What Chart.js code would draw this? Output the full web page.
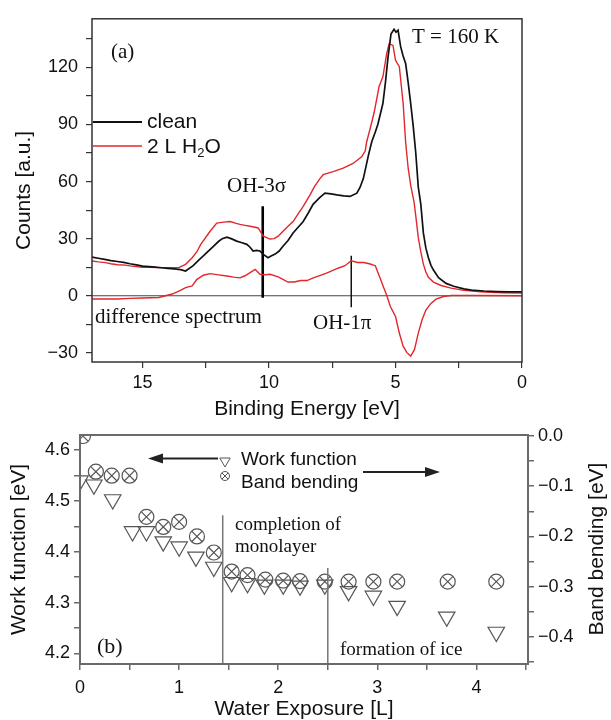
<!DOCTYPE html>
<html>
<head>
<meta charset="utf-8">
<script src="https://cdn.jsdelivr.net/npm/chart.js@4.4.0/dist/chart.umd.min.js"></script>
<style>
  html, body { margin: 0; padding: 0; background: #fff; }
  #wrap { position: relative; width: 611px; height: 720px; overflow: hidden; }
  #spectra-chart { position: absolute; left: 0; top: 0; }
  #exposure-chart { position: absolute; left: 0; top: 420px; }
</style>
</head>
<body>
<div id="wrap">
  <canvas id="spectra-chart" width="611" height="420"></canvas>
  <canvas id="exposure-chart" width="611" height="300"></canvas>
</div>
<script>
// (a) valence band spectra, binding energy [eV] vs counts [a.u.]
const cleanEnergy = [17, 16.75, 16.5, 16.25, 16, 15.75, 15.5, 15.25, 15, 14.75, 14.5, 14.25, 14, 13.75, 13.5, 13.3, 13.0, 12.8, 12.6, 12.4, 12.2, 12.0, 11.85, 11.67, 11.5, 11.28, 11.1, 10.88, 10.75, 10.63, 10.5, 10.36, 10.2, 10.04, 9.9, 9.76, 9.6, 9.45, 9.25, 9.05, 8.85, 8.65, 8.45, 8.26, 8.0, 7.79, 7.55, 7.32, 7.05, 6.8, 6.53, 6.4, 6.27, 6.07, 5.94, 5.8, 5.7, 5.5, 5.4, 5.3, 5.18, 5.06, 4.98, 4.9, 4.8, 4.7, 4.6, 4.5, 4.4, 4.3, 4.2, 4.1, 4.0, 3.9, 3.8, 3.7, 3.6, 3.5, 3.3, 3.0, 2.7, 2.3, 2.0, 1.5, 1.0, 0.5, 0];
const cleanCounts = [20.3, 19.7, 19.1, 18.5, 18, 17.5, 16.8, 16.2, 15.6, 15.3, 15, 14.7, 14.4, 14.1, 13.7, 13, 15.8, 18.5, 20.9, 23.5, 26, 28.5, 30, 30.8, 30, 28.7, 28, 27, 25.5, 23.5, 23.8, 23.5, 21.5, 20, 21, 21.9, 23.5, 26, 29, 33, 36, 39, 43.5, 48, 51.5, 53.9, 53.5, 53, 52.5, 52.2, 53.9, 57, 61.7, 73.9, 80.9, 86, 90, 101, 112, 125, 137.5, 140, 138.5, 139.5, 131, 126, 122, 112, 101, 89, 75, 57, 48, 33, 25, 20, 16, 13.5, 9.5, 6.5, 5, 3.6, 3, 2.5, 2.2, 2, 2];

const waterEnergy = [17, 16.75, 16.47, 16.25, 16, 15.68, 15.5, 15.25, 15.02, 14.75, 14.36, 14, 13.57, 13.3, 13.04, 12.86, 12.7, 12.33, 12.07, 11.8, 11.54, 11.3, 11.15, 10.95, 10.75, 10.43, 10.23, 9.96, 9.8, 9.64, 9.45, 9.25, 9.05, 8.85, 8.65, 8.38, 8.2, 7.98, 7.86, 7.47, 7.07, 6.68, 6.34, 6.2, 6.14, 6.0, 5.85, 5.65, 5.5, 5.35, 5.25, 5.1, 5.0, 4.85, 4.7, 4.6, 4.5, 4.4, 4.27, 4.2, 4.1, 4.0, 3.9, 3.8, 3.7, 3.5, 3.2, 2.8, 2.3, 1.5, 0.75, 0];
const waterCounts = [18.3, 17.8, 17.4, 16.8, 16.3, 16.1, 15.7, 15.3, 15, 14.9, 14.8, 14.8, 14.8, 16.5, 20, 23, 27, 33.9, 38.2, 38.7, 39, 38, 37.5, 37, 36.5, 35.6, 31.3, 29.8, 30, 31.3, 33.9, 36.5, 39, 43, 47, 53, 57.5, 61.7, 63.6, 65.2, 67, 69.5, 73, 76, 80.9, 88, 96, 109.9, 115, 127.2, 132.4, 131.5, 123.7, 120.3, 101.3, 80.6, 67, 58, 49.5, 42, 30.5, 23, 16.6, 12.5, 9.7, 7.2, 5.4, 4, 2.8, 2, 1.6, 1.4];

const diffEnergy = [17, 16, 15.5, 15, 14.36, 13.83, 13.5, 13.3, 13.04, 12.86, 12.6, 12.33, 12, 11.67, 11.4, 11.15, 10.95, 10.75, 10.55, 10.36, 10.15, 9.96, 9.64, 9.25, 9, 8.75, 8.5, 8.25, 8, 7.75, 7.5, 7.25, 7, 6.75, 6.5, 6.25, 6.0, 5.8, 5.65, 5.5, 5.35, 5.2, 5.0, 4.85, 4.7, 4.55, 4.4, 4.25, 4.1, 3.95, 3.8, 3.6, 3.4, 3.1, 2.8, 2.0, 0];
const diffCounts = [-1.7, -1.7, -1.4, -1.2, -0.9, 0.9, 2.8, 4.3, 5.2, 8.5, 10.8, 11.6, 11, 10.4, 9.8, 9.4, 10.5, 12.2, 13.9, 11.3, 11, 11.3, 9.9, 7.2, 7.2, 8, 8, 9.4, 10.6, 11.8, 13.2, 14.6, 15.8, 18.4, 17.5, 17.5, 16.7, 15.8, 10.6, 5.4, 0.3, -5.8, -10.9, -19.6, -26.5, -29.9, -31.7, -28.2, -19.6, -12.6, -7.5, -4, -1.8, -0.4, 0.1, 0.1, 0];

// peak markers OH-3sigma and OH-1pi
const markerEnergy = [10.25, 6.75];
const markerTop = [47, 21];
const markerBottom = [-1, -6];

// (b) work function and band bending vs water exposure [L]
const wfExposure = [0, 0.14, 0.33, 0.53, 0.67, 0.84, 1.0, 1.17, 1.35, 1.53, 1.69, 1.86, 2.05, 2.22, 2.47, 2.71, 2.96, 3.2, 3.7, 4.2];
const workFunction = [4.54, 4.532, 4.503, 4.44, 4.44, 4.42, 4.41, 4.39, 4.37, 4.34, 4.338, 4.335, 4.335, 4.333, 4.335, 4.322, 4.313, 4.293, 4.272, 4.242];
const bbExposure = [0.03, 0.16, 0.32, 0.5, 0.67, 0.84, 1.0, 1.18, 1.35, 1.53, 1.69, 1.87, 2.05, 2.22, 2.47, 2.71, 2.96, 3.2, 3.71, 4.2];
const bandBending = [0.0, -0.071, -0.079, -0.079, -0.161, -0.181, -0.171, -0.2, -0.232, -0.27, -0.277, -0.286, -0.288, -0.289, -0.29, -0.29, -0.29, -0.29, -0.29, -0.29];

// completion of monolayer / formation of ice
const stageExposure = [1.44, 2.5];
const stageTop = [4.472, 4.368];

const SANS = '"Liberation Sans", Arial, sans-serif';
const SERIF = '"Liberation Serif", "Times New Roman", serif';
const RED = '#e3262b';

Chart.defaults.font.family = SANS;
Chart.defaults.color = '#111';
Chart.defaults.animation = false;

const pairs = (xs, ys) => xs.map((x, i) => ({ x: x, y: ys[i] }));
const isMult = (v, step) => Math.abs(v / step - Math.round(v / step)) < 1e-6;
const minus = s => s.replace('-', '\u2212');

function frame(chart, color, width) {
  const { ctx, chartArea: a } = chart;
  ctx.save();
  ctx.strokeStyle = color;
  ctx.lineWidth = width;
  ctx.strokeRect(a.left, a.top, a.right - a.left, a.bottom - a.top);
  ctx.restore();
}

function text(ctx, str, x, y, font, align) {
  ctx.font = font;
  ctx.textAlign = align || 'left';
  ctx.textBaseline = 'middle';
  ctx.fillText(str, x, y);
}

// ---------- panel (a) ----------
const spectraDecor = {
  id: 'spectraDecor',
  beforeDatasetsDraw(chart) {
    const { ctx, chartArea: a, scales } = chart;
    const y0 = scales.y.getPixelForValue(0);
    ctx.save();
    ctx.strokeStyle = '#444';
    ctx.lineWidth = 1.2;
    ctx.beginPath();
    ctx.moveTo(a.left, y0);
    ctx.lineTo(a.right, y0);
    ctx.stroke();
    ctx.restore();
  },
  afterDatasetsDraw(chart) {
    const ctx = chart.ctx;
    frame(chart, '#333', 1.5);
    ctx.save();
    ctx.fillStyle = '#111';
    text(ctx, '(a)', 111, 52, '21px ' + SERIF);
    text(ctx, 'T = 160 K', 412, 37, '21px ' + SERIF);
    text(ctx, 'OH-3\u03c3', 227, 186, '21px ' + SERIF);
    text(ctx, 'difference spectrum', 95, 317, '21px ' + SERIF);
    text(ctx, 'OH-1\u03c0', 313, 323, '21px ' + SERIF);

    // legend
    ctx.lineWidth = 1.8;
    ctx.strokeStyle = '#111';
    ctx.beginPath(); ctx.moveTo(93, 122); ctx.lineTo(142, 122); ctx.stroke();
    ctx.strokeStyle = RED;
    ctx.lineWidth = 1.5;
    ctx.beginPath(); ctx.moveTo(93, 146); ctx.lineTo(142, 146); ctx.stroke();
    text(ctx, 'clean', 147, 122, '21px ' + SANS);
    let x = 147;
    text(ctx, '2 L H', x, 147, '21px ' + SANS);
    x += ctx.measureText('2 L H').width;
    text(ctx, '2', x, 153, '13px ' + SANS);
    x += ctx.measureText('2').width;
    text(ctx, 'O', x, 147, '21px ' + SANS);
    ctx.restore();
  }
};

new Chart(document.getElementById('spectra-chart'), {
  type: 'line',
  data: {
    datasets: [
      {
        label: 'clean',
        data: pairs(cleanEnergy, cleanCounts),
        borderColor: '#111',
        borderWidth: 1.7,
        pointRadius: 0,
        tension: 0
      },
      {
        label: '2 L H2O',
        data: pairs(waterEnergy, waterCounts),
        borderColor: RED,
        borderWidth: 1.4,
        pointRadius: 0,
        tension: 0
      },
      {
        label: 'difference spectrum',
        data: pairs(diffEnergy, diffCounts),
        borderColor: RED,
        borderWidth: 1.4,
        pointRadius: 0,
        tension: 0
      },
      {
        label: 'OH-3s',
        data: [{ x: markerEnergy[0], y: markerTop[0] }, { x: markerEnergy[0], y: markerBottom[0] }],
        borderColor: '#000',
        borderWidth: 2.6,
        pointRadius: 0
      },
      {
        label: 'OH-1p',
        data: [{ x: markerEnergy[1], y: markerTop[1] }, { x: markerEnergy[1], y: markerBottom[1] }],
        borderColor: '#111',
        borderWidth: 1.5,
        pointRadius: 0
      }
    ]
  },
  options: {
    responsive: false,
    parsing: false,
    layout: { padding: { top: 15, right: 89, left: 0, bottom: 0 } },
    plugins: { legend: { display: false }, tooltip: { enabled: false } },
    scales: {
      x: {
        type: 'linear',
        reverse: true,
        min: 0,
        max: 17,
        afterFit: s => { s.height = 58; },
        border: { display: false },
        grid: { drawOnChartArea: false, drawTicks: true, tickLength: 6, color: '#333', lineWidth: 1.2 },
        ticks: {
          stepSize: 2.5,
          includeBounds: false,
          maxRotation: 0,
          autoSkip: false,
          padding: 4,
          font: { size: 18 },
          callback: v => isMult(v, 5) ? String(v) : ''
        },
        title: { display: true, text: 'Binding Energy [eV]', font: { size: 21, lineHeight: 1 }, padding: { top: 0, bottom: 0 } }
      },
      y: {
        type: 'linear',
        min: -34.8,
        max: 145.5,
        afterFit: s => { s.width = 92; },
        border: { display: false },
        grid: { drawOnChartArea: false, drawTicks: true, tickLength: 6, color: '#333', lineWidth: 1.2 },
        ticks: {
          stepSize: 15,
          includeBounds: false,
          autoSkip: false,
          padding: 8,
          font: { size: 18 },
          callback: v => isMult(v, 30) ? minus(String(v)) : ''
        },
        title: { display: true, text: 'Counts [a.u.]', font: { size: 21, lineHeight: 1 }, padding: { top: 14, bottom: 0 } }
      }
    }
  },
  plugins: [spectraDecor]
});

// ---------- panel (b) ----------
function downTriangle(ctx, x, y, r) {
  ctx.beginPath();
  ctx.moveTo(x - r * 0.866, y - r / 2);
  ctx.lineTo(x + r * 0.866, y - r / 2);
  ctx.lineTo(x, y + r);
  ctx.closePath();
  ctx.stroke();
}

function crossCircle(ctx, x, y, r) {
  ctx.beginPath();
  ctx.arc(x, y, r, 0, Math.PI * 2);
  const d = r * Math.SQRT1_2;
  ctx.moveTo(x - d, y - d); ctx.lineTo(x + d, y + d);
  ctx.moveTo(x + d, y - d); ctx.lineTo(x - d, y + d);
  ctx.stroke();
}

function arrow(ctx, x1, x2, y) {
  const dir = Math.sign(x2 - x1);
  ctx.beginPath();
  ctx.moveTo(x1, y);
  ctx.lineTo(x2 - dir * 8, y);
  ctx.stroke();
  ctx.beginPath();
  ctx.moveTo(x2, y);
  ctx.lineTo(x2 - dir * 15, y - 5);
  ctx.lineTo(x2 - dir * 15, y + 5);
  ctx.closePath();
  ctx.fill();
}

const exposureDecor = {
  id: 'exposureDecor',
  afterDatasetsDraw(chart) {
    const ctx = chart.ctx;
    frame(chart, '#6a6a6a', 2);
    ctx.save();
    ctx.fillStyle = '#111';
    text(ctx, 'completion of', 235, 105, '19px ' + SERIF);
    text(ctx, 'monolayer', 235, 127, '19px ' + SERIF);
    text(ctx, 'formation of ice', 340, 230, '19px ' + SERIF);
    text(ctx, '(b)', 97, 227, '22px ' + SERIF);

    // legend
    text(ctx, 'Work function', 241, 40, '19px ' + SANS);
    text(ctx, 'Band bending', 241, 63, '19px ' + SANS);
    ctx.strokeStyle = '#555';
    ctx.lineWidth = 1;
    downTriangle(ctx, 225, 41, 6);
    crossCircle(ctx, 225, 56, 4.5);

    ctx.strokeStyle = '#222';
    ctx.fillStyle = '#222';
    ctx.lineWidth = 2;
    arrow(ctx, 218, 148, 38.5);
    arrow(ctx, 363, 440, 52);

    // right axis title, read bottom to top
    ctx.fillStyle = '#111';
    ctx.translate(597, 129);
    ctx.rotate(-Math.PI / 2);
    text(ctx, 'Band bending [eV]', 0, 0, '21px ' + SANS, 'center');
    ctx.restore();
  }
};

const stageLine = i => ({
  type: 'line',
  data: [{ x: stageExposure[i], y: stageTop[i] }, { x: stageExposure[i], y: 4.179 }],
  yAxisID: 'yWF',
  borderColor: '#777',
  borderWidth: 1.5,
  pointRadius: 0
});

new Chart(document.getElementById('exposure-chart'), {
  type: 'scatter',
  data: {
    datasets: [
      stageLine(0),
      stageLine(1),
      {
        label: 'Work function',
        data: pairs(wfExposure, workFunction),
        yAxisID: 'yWF',
        pointStyle: 'triangle',
        pointRotation: 180,
        pointRadius: 9.5,
        pointBorderWidth: 1.2,
        pointBorderColor: '#555',
        pointBackgroundColor: 'rgba(0,0,0,0)',
        clip: 0
      },
      {
        label: 'Band bending',
        data: pairs(bbExposure, bandBending),
        yAxisID: 'yBB',
        pointStyle: 'circle',
        pointRadius: 7.5,
        pointBorderWidth: 1.2,
        pointBorderColor: '#555',
        pointBackgroundColor: 'rgba(0,0,0,0)',
        clip: 0
      },
      {
        label: 'Band bending x',
        data: pairs(bbExposure, bandBending),
        yAxisID: 'yBB',
        pointStyle: 'crossRot',
        pointRadius: 7.5,
        pointBorderWidth: 1.2,
        pointBorderColor: '#555',
        clip: 0
      }
    ]
  },
  options: {
    responsive: false,
    parsing: false,
    layout: { padding: { top: 15, right: 0, left: 0, bottom: 0 } },
    plugins: { legend: { display: false }, tooltip: { enabled: false } },
    scales: {
      x: {
        type: 'linear',
        min: 0,
        max: 4.52,
        afterFit: s => { s.height = 56; },
        border: { display: false },
        grid: { drawOnChartArea: false, drawTicks: true, tickLength: 6, color: '#6a6a6a', lineWidth: 1.5 },
        ticks: {
          stepSize: 0.5,
          includeBounds: false,
          maxRotation: 0,
          autoSkip: false,
          padding: 7,
          font: { size: 18 },
          callback: v => isMult(v, 1) ? String(Math.round(v)) : ''
        },
        title: { display: true, text: 'Water Exposure [L]', font: { size: 21, lineHeight: 1 }, padding: { top: 0, bottom: 0 } }
      },
      yWF: {
        type: 'linear',
        position: 'left',
        min: 4.179,
        max: 4.630,
        afterFit: s => { s.width = 80; },
        border: { display: false },
        grid: { drawOnChartArea: false, drawTicks: true, tickLength: 6, color: '#6a6a6a', lineWidth: 1.5 },
        ticks: {
          stepSize: 0.05,
          includeBounds: false,
          autoSkip: false,
          padding: 4,
          font: { size: 18 },
          callback: v => isMult(v, 0.1) ? v.toFixed(1) : ''
        },
        title: { display: true, text: 'Work function [eV]', font: { size: 21, lineHeight: 1 }, padding: { top: 9, bottom: 0 } }
      },
      yBB: {
        type: 'linear',
        position: 'right',
        min: -0.454,
        max: 0.002,
        afterFit: s => { s.width = 83; },
        border: { display: false },
        grid: { drawOnChartArea: false, drawTicks: true, tickLength: 6, color: '#6a6a6a', lineWidth: 1.5 },
        ticks: {
          stepSize: 0.05,
          includeBounds: false,
          autoSkip: false,
          padding: 4,
          font: { size: 18 },
          callback: v => isMult(v, 0.1) ? (Math.abs(v) < 1e-6 ? '0.0' : minus(v.toFixed(1))) : ''
        }
      }
    }
  },
  plugins: [exposureDecor]
});
</script>
</body>
</html>
